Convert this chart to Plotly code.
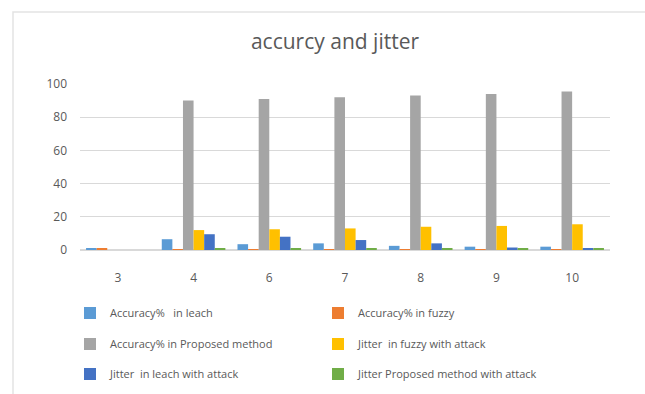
import plotly.graph_objects as go

categories = ["3", "4", "6", "7", "8", "9", "10"]
acc_leach = [0.8, 6.5, 3.5, 4, 2.5, 2, 2]
acc_fuzzy = [0.8, 0.5, 0.5, 0.5, 0.5, 0.5, 0.5]
acc_proposed = [None, 90, 91, 92, 93, 94, 95.5]
jit_fuzzy = [None, 12, 12.5, 13, 14, 14.5, 15.5]
jit_leach = [None, 9.5, 8, 6, 4, 1.5, 1]
jit_proposed = [None, 1, 1, 1, 1, 1, 1]

names = ["Accuracy%\u00a0\u00a0 in leach", "Accuracy% in fuzzy",
         "Accuracy% in Proposed method", "Jitter\u00a0 in fuzzy with attack",
         "Jitter\u00a0 in leach with attack", "Jitter Proposed method with attack"]
series = [acc_leach, acc_fuzzy, acc_proposed, jit_fuzzy, jit_leach, jit_proposed]
colors = ["#5B9BD5", "#ED7D31", "#A5A5A5", "#FFC000", "#4472C4", "#70AD47"]
legends = ["legend", "legend", "legend2", "legend2", "legend3", "legend3"]

W, H = 645, 394
L, R, T, B = 80, 35, 84, 144

fig = go.Figure()
for nm, vals, col, lg in zip(names, series, colors, legends):
    fig.add_trace(go.Bar(x=categories, y=vals, name=nm, marker_color=col,
                         marker_line_width=0, legend=lg))

txt = "#595959"
font = "Open Sans, Liberation Sans, sans-serif"
row_y = [313, 344, 374]
leg_common = dict(orientation="h", xref="container", yref="container",
                  x=70 / W, xanchor="left", yanchor="middle",
                  entrywidth=203, entrywidthmode="pixels",
                  font=dict(size=11, color=txt, family=font),
                  bgcolor="rgba(0,0,0,0)", traceorder="normal")

pw = W - L - R
ph = H - T - B
fig.update_layout(
    width=W, height=H,
    margin=dict(l=L, r=R, t=T, b=B),
    paper_bgcolor="white", plot_bgcolor="white",
    font=dict(family=font, color=txt),
    title=dict(text="accurcy and jitter", x=335 / W, xanchor="center",
               xref="container", y=1 - 42 / H, yref="container", yanchor="middle",
               font=dict(size=21, color=txt, family=font)),
    barmode="group", bargap=0.16, bargroupgap=0,
    legend=dict(**leg_common, y=1 - row_y[0] / H),
    legend2=dict(**leg_common, y=1 - row_y[1] / H),
    legend3=dict(**leg_common, y=1 - row_y[2] / H),
    xaxis=dict(type="category", showgrid=False, showline=False, zeroline=False,
               ticks="", tickfont=dict(size=12, color=txt), ticklabelstandoff=19),
    yaxis=dict(range=[0, 100], dtick=20, showgrid=True, gridcolor="#D9D9D9",
               gridwidth=1, zeroline=True, zerolinecolor="#D9D9D9", showline=False,
               ticks="", tickfont=dict(size=12, color=txt), ticklabelstandoff=12),
    shapes=[dict(type="rect", xref="paper", yref="paper",
                 x0=(13 - L) / pw, x1=(W + 5 - L) / pw,
                 y0=(H - B - (H + 5)) / ph, y1=(H - B - 12) / ph,
                 line=dict(color="#E3E3E3", width=1.5), fillcolor="rgba(0,0,0,0)",
                 layer="below")],
)

fig.write_html("out.html")
